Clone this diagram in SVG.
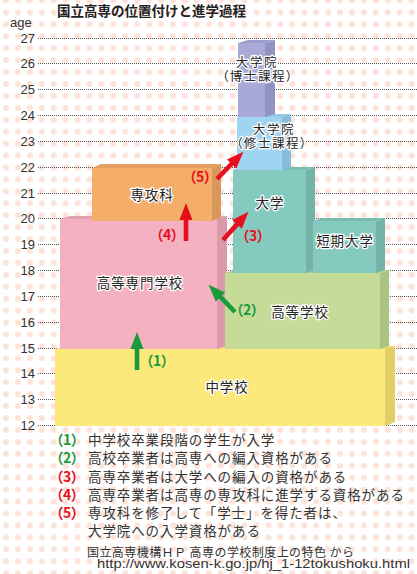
<svg xmlns="http://www.w3.org/2000/svg" width="417" height="574" viewBox="0 0 417 574">
<style>
.ax{font-family:"Liberation Sans",Arial,sans-serif;font-size:13px;fill:#333;text-anchor:end}
.grid{stroke:#555;stroke-width:1;stroke-dasharray:1 1;fill:none}
.lbl{font-family:"Noto Sans CJK JP",sans-serif;font-size:13.5px;letter-spacing:0.9px;fill:#222;text-anchor:middle;stroke:#fff;stroke-width:2.6px;paint-order:stroke;stroke-linejoin:round}
.sm{font-size:12.5px;letter-spacing:1.6px}
.num{font-family:"Noto Sans CJK JP",sans-serif;font-size:14px;font-weight:bold;font-feature-settings:"palt"}
.g{fill:#1b9a3c}
.r{fill:#e60f1e}
.leg{font-family:"Noto Sans CJK JP",sans-serif;font-size:13.5px;letter-spacing:0.9px;fill:#333}
.src{font-family:"Noto Sans CJK JP",sans-serif;font-size:12px;fill:#333}
.url{font-family:"Liberation Sans",Arial,sans-serif;font-size:13.5px;fill:#333}
</style>
<defs>
<pattern id="dots" width="11.93" height="11.93" patternUnits="userSpaceOnUse" x="0" y="-5.5">
<circle cx="6" cy="6" r="3" fill="#fde2d8"/>
</pattern>
<path id="arr" d="M-2.3,0 L2.3,0 L2.3,-21 L6.5,-21 L0,-38 L-6.5,-21 L-2.3,-21 Z"/>
</defs>
<rect width="417" height="574" fill="#fff"/>
<rect width="417" height="574" fill="url(#dots)"/>
<text x="57" y="16" style="font-family:'Noto Sans CJK JP',sans-serif;font-size:13.5px;font-weight:bold;fill:#222">国立高専の位置付けと進学過程</text>
<g id="axis">
<text x="10" y="27" style="font-family:'Liberation Sans',Arial,sans-serif;font-size:13px;fill:#333">age</text>
<g class="grid">
<line x1="38" y1="38.5" x2="417" y2="38.5"/>
<line x1="38" y1="63.5" x2="417" y2="63.5"/>
<line x1="38" y1="89.5" x2="417" y2="89.5"/>
<line x1="38" y1="115.5" x2="417" y2="115.5"/>
<line x1="38" y1="141.5" x2="417" y2="141.5"/>
<line x1="38" y1="167.5" x2="417" y2="167.5"/>
<line x1="38" y1="193.5" x2="417" y2="193.5"/>
<line x1="38" y1="218.5" x2="417" y2="218.5"/>
<line x1="38" y1="244.5" x2="417" y2="244.5"/>
<line x1="38" y1="270.5" x2="417" y2="270.5"/>
<line x1="38" y1="296.5" x2="417" y2="296.5"/>
<line x1="38" y1="322.5" x2="417" y2="322.5"/>
<line x1="38" y1="348.5" x2="417" y2="348.5"/>
<line x1="38" y1="373.5" x2="417" y2="373.5"/>
<line x1="38" y1="399.5" x2="417" y2="399.5"/>
<line x1="38" y1="425.5" x2="417" y2="425.5"/>
</g>
<text class="ax" x="35" y="43">27</text>
<text class="ax" x="35" y="68">26</text>
<text class="ax" x="35" y="94">25</text>
<text class="ax" x="35" y="120">24</text>
<text class="ax" x="35" y="146">23</text>
<text class="ax" x="35" y="172">22</text>
<text class="ax" x="35" y="198">21</text>
<text class="ax" x="35" y="223">20</text>
<text class="ax" x="35" y="249">19</text>
<text class="ax" x="35" y="275">18</text>
<text class="ax" x="35" y="301">17</text>
<text class="ax" x="35" y="327">16</text>
<text class="ax" x="35" y="353">15</text>
<text class="ax" x="35" y="378">14</text>
<text class="ax" x="35" y="404">13</text>
<text class="ax" x="35" y="430">12</text>
</g>
<g id="chugakko">
<path d="M55,349 L65,346 L395,346 L385,349 Z" fill="#f3df74"/>
<path d="M385,349 L395,346 L395,422 L385,426 Z" fill="#e3cf68"/>
<rect x="55" y="349" width="330" height="77" fill="#fde87b"/>
<text class="lbl" x="227" y="392">中学校</text>
</g>
<g id="kosen">
<path d="M60,219 L70,216 L227,216 L217,219 Z" fill="#e2a2b2"/>
<path d="M217,219 L227,216 L227,346 L217,349 Z" fill="#d99ba9"/>
<rect x="60" y="219" width="157" height="130" fill="#f3b1c1"/>
<text class="lbl" x="140" y="288">高等専門学校</text>
</g>
<g id="senkoka">
<path d="M92,168 L101,164 L221,164 L212,168 Z" fill="#e49f60"/>
<path d="M212,168 L221,164 L221,217 L212,221 Z" fill="#d8985c"/>
<rect x="92" y="168" width="120" height="53" fill="#f4ae6a"/>
<text class="lbl" x="152" y="200">専攻科</text>
</g>
<g id="kotogakko">
<path d="M225,273 L234,270 L389,270 L380,273 Z" fill="#b5cf8b"/>
<path d="M380,273 L389,270 L389,346 L380,349 Z" fill="#a9c483"/>
<rect x="225" y="273" width="155" height="76" fill="#c4dc98"/>
<text class="lbl" x="300" y="317">高等学校</text>
</g>
<g id="daigaku">
<path d="M233,170 L242,167 L315,167 L306,170 Z" fill="#79bcb0"/>
<path d="M306,170 L315,167 L315,270 L306,273 Z" fill="#73b3a8"/>
<rect x="233" y="170" width="73" height="103" fill="#85cabf"/>
<text class="lbl" x="270" y="208">大学</text>
</g>
<g id="tanki">
<path d="M313,221 L322,218 L385,218 L376,221 Z" fill="#79bcb0"/>
<path d="M376,221 L385,218 L385,270 L376,273 Z" fill="#73b3a8"/>
<rect x="313" y="221" width="63" height="52" fill="#85cabf"/>
<text class="lbl" x="345" y="246">短期大学</text>
</g>
<g id="shushi">
<path d="M237,117 L246,114 L291,114 L282,117 Z" fill="#93c8e6"/>
<path d="M282,117 L291,114 L291,167 L282,170 Z" fill="#87bedc"/>
<rect x="237" y="117" width="45" height="53" fill="#a0d5f2"/>
<text class="lbl sm" x="274" y="134">大学院</text>
<text class="lbl sm" x="272" y="148" style="font-feature-settings:'palt'">（修士課程）</text>
</g>
<g id="hakushi">
<path d="M238,43 L248,40 L275,40 L265,43 Z" fill="#9c9dcc"/>
<path d="M265,43 L275,40 L275,114 L265,117 Z" fill="#9293c1"/>
<rect x="238" y="43" width="27" height="74" fill="#a8a9d6"/>
<text class="lbl sm" x="257" y="67">大学院</text>
<text class="lbl sm" x="258" y="81" style="font-feature-settings:'palt'">（博士課程）</text>
</g>
<g id="connectors">
<use href="#arr" class="g" transform="translate(137,370)"/>
<use href="#arr" class="g" transform="translate(235,312) rotate(-44)"/>
<use href="#arr" class="r" transform="translate(223,240) rotate(42)"/>
<use href="#arr" class="r" transform="translate(186,241)"/>
<use href="#arr" class="r" transform="translate(217,179) rotate(44)"/>
<text class="num g" x="146" y="366">（1）</text>
<text class="num g" x="236" y="315">（2）</text>
<text class="num r" x="242" y="241">（3）</text>
<text class="num r" x="156" y="240">（4）</text>
<text class="num r" x="189" y="182">（5）</text>
</g>
<g id="legend">
<text class="num g" x="56" y="445">（1）</text>
<text class="leg" x="88" y="445">中学校卒業段階の学生が入学</text>
<text class="num g" x="56" y="463">（2）</text>
<text class="leg" x="88" y="463">高校卒業者は高専への編入資格がある</text>
<text class="num r" x="56" y="481.5">（3）</text>
<text class="leg" x="88" y="481.5">高専卒業者は大学への編入の資格がある</text>
<text class="num r" x="56" y="499.5">（4）</text>
<text class="leg" x="88" y="499.5">高専卒業者は高専の専攻科に進学する資格がある</text>
<text class="num r" x="56" y="518">（5）</text>
<text class="leg" x="88" y="518">専攻科を修了して「学士」を得た者は、</text>
<text class="leg" x="88" y="536">大学院への入学資格がある</text>
<text class="src" x="87" y="557" textLength="267" lengthAdjust="spacing">国立高専機構ＨＰ 高専の学校制度上の特色 から</text>
<text class="url" x="97" y="568" textLength="313" lengthAdjust="spacingAndGlyphs">http://www.kosen-k.go.jp/hj_1-12tokushoku.html</text>
</g>
</svg>
